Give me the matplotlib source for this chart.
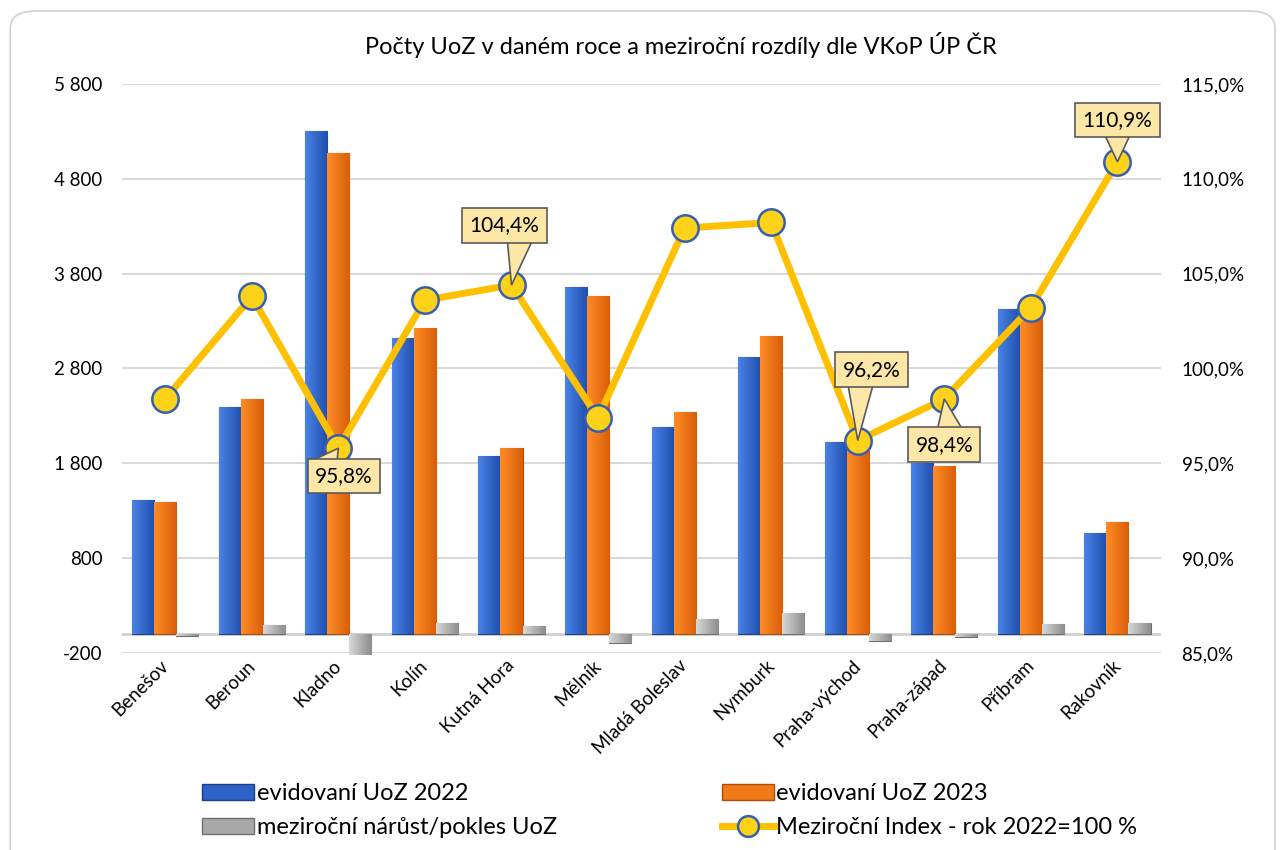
import numpy as np
import matplotlib
matplotlib.use("Agg")
import matplotlib.pyplot as plt
import matplotlib.transforms as mtransforms
from matplotlib.patches import FancyBboxPatch, Patch, Polygon
from matplotlib.lines import Line2D
from matplotlib.colors import LinearSegmentedColormap

# ---------------------------------
# Data
# ---------------------------------

districts = [
    "Benešov", "Beroun", "Kladno", "Kolín", "Kutná Hora", "Mělník",
    "Mladá Boleslav", "Nymburk", "Praha-východ", "Praha-západ",
    "Příbram", "Rakovník",
]
uoz_2022 = [1412, 2392, 5300, 3119, 1876, 3656, 2181, 2919, 2023, 1802, 3425, 1064]
uoz_2023 = [1389, 2483, 5077, 3230, 1958, 3559, 2342, 3144, 1946, 1773, 3535, 1180]
diff = [-23, 91, -223, 111, 82, -97, 161, 225, -77, -29, 110, 116]
index_pct = [98.4, 103.8, 95.8, 103.6, 104.4, 97.4, 107.4, 107.7, 96.2, 98.4, 103.2, 110.9]

left_ticks = [-200, 800, 1800, 2800, 3800, 4800, 5800]
right_ticks = [85, 90, 95, 100, 105, 110, 115]

# callouts: index of category -> (box offset x, box offset y, pointer base x) in points
callouts = {
    2: (4, -20, -10),
    4: (-5, 43, 6),
    8: (10, 51, 2),
    9: (0, -33, 4),
    11: (0, 30, 0),
}

plt.rcParams["font.family"] = ["Lato", "DejaVu Sans"]

fig = plt.figure(figsize=(12.84, 8.5), dpi=100)

# outer rounded frame
frame = FancyBboxPatch(
    (0.008, -0.05), 0.985, 1.037,
    boxstyle="round,pad=0,rounding_size=0.02",
    transform=fig.transFigure,
    facecolor="none",
    edgecolor="#D0D0D0",
    linewidth=1.2,
    zorder=-1,
)
fig.patches.append(frame)

ax = fig.add_axes([0.095, 0.2318, 0.809, 0.6694])
ax.set_facecolor("none")

x = np.arange(len(districts))
w = 0.255


def gradient_bars(xpos, values, light, dark, edge):
    cmap = LinearSegmentedColormap.from_list("g", [light, dark])
    grad = np.linspace(0, 1, 64).reshape(1, -1)
    bars = ax.bar(xpos, values, width=w, color=dark, edgecolor=edge,
                  linewidth=0.8, zorder=3)
    for b in bars:
        bx, by = b.get_x(), b.get_y()
        bw, bh = b.get_width(), b.get_height()
        im = ax.imshow(grad, cmap=cmap, aspect="auto",
                       extent=[bx, bx + bw, by, by + bh], zorder=3.5)
        im.set_clip_path(b)
    return bars


gradient_bars(x - w, uoz_2022, "#4A82E6", "#1F4FAE", "#1C3F85")
gradient_bars(x, uoz_2023, "#FF8C28", "#D85E08", "#B04A05")
gradient_bars(x + w, diff, "#D8D8D8", "#8C8C8C", "#6E6E6E")

ax.set_xlim(-0.5, len(districts) - 0.5)
ax.set_ylim(-200, 5800)
ax.set_yticks(left_ticks)
ax.set_yticklabels([f"{v:,}".replace(",", " ") for v in left_ticks])
ax.set_xticks(x)
ax.set_xticklabels(districts, rotation=45, ha="right", va="center",
                   rotation_mode="anchor", fontsize=13.5)
ax.tick_params(axis="both", length=0, labelsize=13.5)
ax.tick_params(axis="y", pad=14)
ax.tick_params(axis="x", pad=7)
ax.grid(axis="y", color="#D9D9D9", linewidth=1.5, zorder=0)
ax.axhline(0, color="#D0D0D0", linewidth=2, zorder=2)
for s in ax.spines.values():
    s.set_visible(False)

# ---------------------------------
# Index line on right axis
# ---------------------------------

ax2 = ax.twinx()
ax2.plot(x, index_pct, color="#FFC000", linewidth=5, zorder=5,
         marker="o", markersize=19, markerfacecolor="#FFD21A",
         markeredgecolor="#3560B0", markeredgewidth=1.8)
ax2.set_ylim(85, 115)
ax2.set_yticks(right_ticks)
ax2.set_yticklabels([f"{v:.1f}%".replace(".", ",") for v in right_ticks])
ax2.tick_params(axis="y", length=0, labelsize=13.5, pad=15)
for s in ax2.spines.values():
    s.set_visible(False)

# callout boxes with a pointer to the marker
pts = mtransforms.Affine2D().scale(1 / 72) + fig.dpi_scale_trans
for i, (dx, dy, bx) in callouts.items():
    anchor = mtransforms.ScaledTranslation(x[i], index_pct[i], ax2.transData)
    edge = dy - 11 if dy > 0 else dy + 11
    pointer = Polygon([(0, 0), (bx - 9, edge), (bx + 9, edge)],
                      closed=True, transform=pts + anchor,
                      fc="#FDE7A6", ec="#5A5A5A", lw=1.2, zorder=6)
    ax2.add_patch(pointer)
    ax2.annotate(
        f"{index_pct[i]:.1f}%".replace(".", ","),
        xy=(x[i], index_pct[i]),
        xytext=(dx, dy),
        textcoords="offset points",
        ha="center", va="center",
        fontsize=15,
        bbox=dict(boxstyle="square,pad=0.35", fc="#FDE7A6", ec="#5A5A5A", lw=1.2),
        zorder=7,
    )

fig.text(0.530, 0.947,
         "Počty UoZ v daném roce a meziroční rozdíly dle VKoP ÚP ČR",
         ha="center", va="center", fontsize=17)

# ---------------------------------
# Legend
# ---------------------------------

handles = [
    Patch(facecolor="#2F62C8", edgecolor="#1C3F85"),
    Patch(facecolor="#A8A8A8", edgecolor="#6E6E6E"),
    Patch(facecolor="#F07A18", edgecolor="#B04A05"),
    Line2D([0], [0], color="#FFC000", linewidth=5, marker="o", markersize=15,
           markerfacecolor="#FFD21A", markeredgecolor="#3560B0",
           markeredgewidth=1.8),
]
labels = [
    "evidovaní UoZ 2022",
    "meziroční nárůst/pokles UoZ",
    "evidovaní UoZ 2023",
    "Meziroční Index - rok 2022=100 %",
]
fig.legend(handles, labels, ncol=2, loc="center left",
           bbox_to_anchor=(0.141, 0.0465), frameon=False, fontsize=17,
           handlelength=2.2, handleheight=0.65, handletextpad=0.1,
           columnspacing=7.0, labelspacing=0.55)

fig.savefig("out.png", dpi=100)
